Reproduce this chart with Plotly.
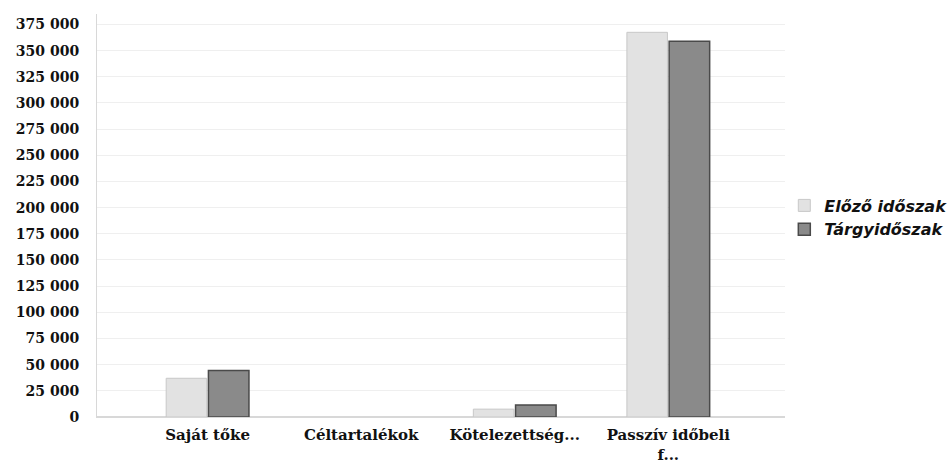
import plotly.graph_objects as go

categories = ["Saját tőke", "Céltartalékok", "Kötelezettség...", "Passzív időbeli<br>f..."]
prev_period = [37000, 0, 7500, 367500]
curr_period = [44500, 0, 11500, 359000]
series_names = ["Előző időszak", "Tárgyidőszak"]
tick_vals = list(range(0, 375001, 25000))
tick_text = [f"{v:,}".replace(",", " ") for v in tick_vals]

prev_line_w = [0 if v == 0 else 1 for v in prev_period]
curr_line_w = [0 if v == 0 else 1.5 for v in curr_period]

fig = go.Figure()
fig.add_trace(go.Bar(
    x=categories, y=prev_period, name=f"<b><i>{series_names[0]}</i></b>",
    marker=dict(color="#e2e2e2", line=dict(color="#c8c8c8", width=prev_line_w)),
))
fig.add_trace(go.Bar(
    x=categories, y=curr_period, name=f"<b><i>{series_names[1]}</i></b>",
    marker=dict(color="#8a8a8a", line=dict(color="#4a4a4a", width=curr_line_w)),
))

fig.update_layout(
    width=948, height=475,
    margin=dict(l=97, r=163, t=14, b=58, autoexpand=False),
    paper_bgcolor="white", plot_bgcolor="white",
    barmode="group", bargap=0.45, bargroupgap=0.04,
    showlegend=True,
    legend=dict(
        x=0.999, xanchor="left", y=0.495, yanchor="middle",
        font=dict(family="DejaVu Sans", size=16, color="#111"),
        itemwidth=30, tracegroupgap=8,
        bgcolor="rgba(0,0,0,0)",
    ),
)
fig.update_xaxes(
    range=[-0.72, 3.76],
    showgrid=False, automargin=False,
    showline=True, linecolor="#d8d8d8", linewidth=1,
    tickvals=categories, ticktext=[f"<b>{c}</b>" for c in categories],
    tickfont=dict(family="DejaVu Serif", size=15, color="#111"),
    ticks="", ticklabelstandoff=4,
)
fig.update_yaxes(
    range=[0, 385000], automargin=False,
    tickvals=tick_vals, ticktext=[f"<b>{t}</b>" for t in tick_text],
    showgrid=True, gridcolor="#efefef", gridwidth=1,
    showline=True, linecolor="#d8d8d8", linewidth=1,
    zeroline=True, zerolinecolor="#d8d8d8",
    tickfont=dict(family="DejaVu Serif", size=14, color="#111"),
    ticks="", ticklabelstandoff=14,
)

fig.write_html("out.html", config={"displayModeBar": False},
               post_script="document.body.style.margin='0';")
